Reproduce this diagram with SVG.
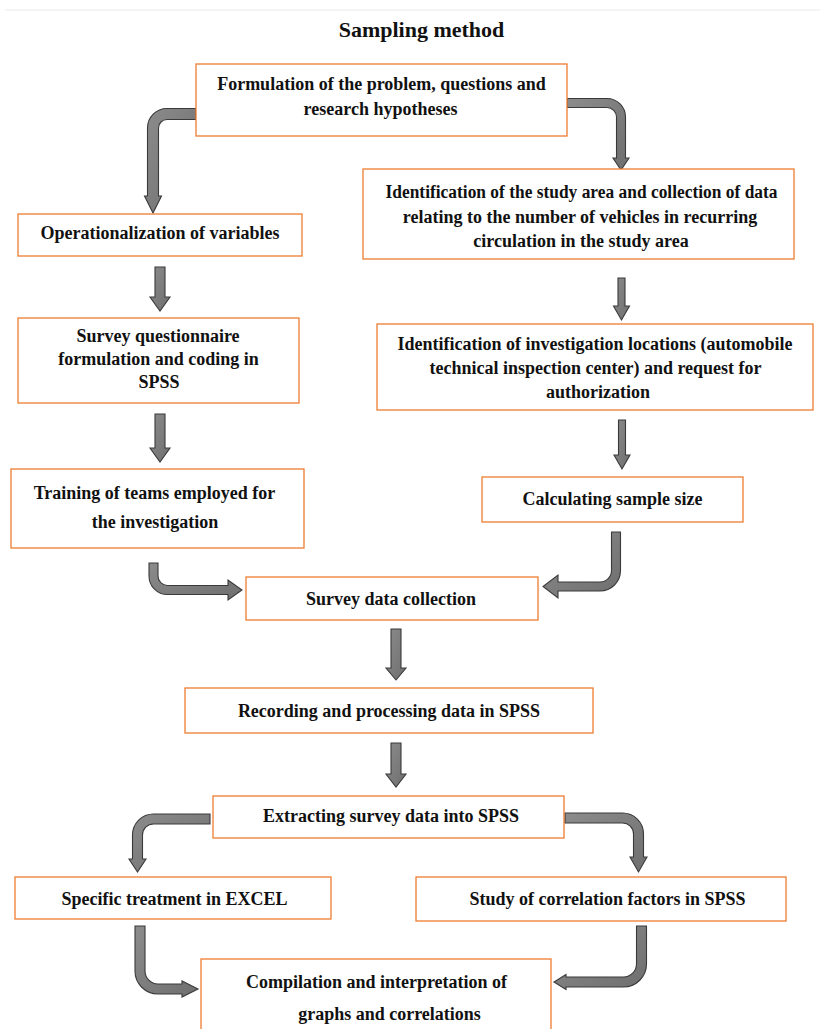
<svg xmlns="http://www.w3.org/2000/svg" width="820" height="1029" viewBox="0 0 820 1029">
<defs>
<linearGradient id="g" x1="0" y1="0" x2="1" y2="1">
<stop offset="0" stop-color="#8c8c8c"/>
<stop offset="1" stop-color="#6e6e6e"/>
</linearGradient>
</defs>
<style>
.box{fill:#fff;stroke:#ED7D31;stroke-width:1.3}
.t{font-family:"Liberation Serif","Times New Roman",serif;font-weight:bold;font-size:18px;fill:#111;text-anchor:middle}
.title{font-family:"Liberation Serif","Times New Roman",serif;font-weight:bold;font-size:22px;fill:#111;text-anchor:middle}
.ar{fill:url(#g);stroke:#3a3a3a;stroke-width:1.1;stroke-linejoin:miter}
</style>
<rect width="820" height="1029" fill="#fff"/>
<line x1="5" y1="10" x2="820" y2="10" stroke="#f0f0f0" stroke-width="1.5"/>
<text class="title" x="421.5" y="37">Sampling method</text>

<g id="connectors">
<path class="ar" d="M196,108.5 L167,108.5 A19.5,19.5 0 0 0 147.5,128 L147.5,196 L144.5,196 L153,213 L161.5,196 L158.5,196 L158.5,128 A8.5,8.5 0 0 1 167,119.5 L196,119.5 Z"/>
<path class="ar" d="M567,98.5 L607,98.5 A18.5,18.5 0 0 1 625.5,117 L625.5,158 L629,158 L621,170 L613,158 L616.5,158 L616.5,117 A9.5,9.5 0 0 0 607,107.5 L567,107.5 Z"/>
<polygon class="ar" points="155,267 165,267 165,297 170,297 160,311 150,297 155,297"/>
<polygon class="ar" points="155,414 165,414 165,448 170,448 160,462 150,448 155,448"/>
<polygon class="ar" points="618,278 625,278 625,306 629.5,306 621.5,320 613.5,306 618,306"/>
<polygon class="ar" points="618.5,420 625.5,420 625.5,455 630,455 622,469 614,455 618.5,455"/>
<path class="ar" d="M149,563 L149,576 A18.5,18.5 0 0 0 167.5,594.5 L228,594.5 L228,600 L242,590 L228,580 L228,585.5 L167.5,585.5 A9.5,9.5 0 0 1 158,576 L158,563 Z"/>
<path class="ar" d="M611.5,532 L611.5,570.5 A11.5,11.5 0 0 1 600,582 L558,582 L558,575 L543,586.5 L558,598 L558,591 L600,591 A20.5,20.5 0 0 0 620.5,570.5 L620.5,532 Z"/>
<polygon class="ar" points="391,629 401,629 401,668 406,668 396,680 386,668 391,668"/>
<polygon class="ar" points="391,743 401,743 401,774 406,774 396,787 386,774 391,774"/>
<path class="ar" d="M210,814 L153.5,814 A21,21 0 0 0 132.5,835 L132.5,859 L129,859 L137.5,872 L146,859 L142.5,859 L142.5,835 A11,11 0 0 1 153.5,824 L210,824 Z"/>
<path class="ar" d="M565,813 L622.5,813 A21,21 0 0 1 643.5,834 L643.5,857 L647,857 L638.5,872 L630,857 L633.5,857 L633.5,834 A11,11 0 0 0 622.5,823 L565,823 Z"/>
<path class="ar" d="M135,926 L135,971 A23,23 0 0 0 158,994 L182,994 L182,997 L198,989 L182,981 L182,984 L158,984 A13,13 0 0 1 145,971 L145,926 Z"/>
<path class="ar" d="M636.5,926 L636.5,964 A13,13 0 0 1 623.5,977 L566,977 L566,974.5 L554,982 L566,989.5 L566,987 L623.5,987 A23,23 0 0 0 646.5,964 L646.5,926 Z"/>
</g>

<g id="n1"><rect class="box" x="196" y="64" width="371" height="72"/>
<text class="t" x="381.5" y="90">Formulation of the problem, questions and</text>
<text class="t" x="380.5" y="115">research hypotheses</text></g>

<g id="n2"><rect class="box" x="363" y="169" width="431" height="90"/>
<text class="t" x="581.5" y="198" textLength="392" lengthAdjust="spacingAndGlyphs">Identification of the study area and collection of data</text>
<text class="t" x="580" y="223">relating to the number of vehicles in recurring</text>
<text class="t" x="581" y="247">circulation in the study area</text></g>

<g id="n3"><rect class="box" x="18" y="214" width="284" height="42"/>
<text class="t" x="160" y="239">Operationalization of variables</text></g>

<g id="n4"><rect class="box" x="18" y="318" width="281" height="85"/>
<text class="t" x="158" y="342">Survey questionnaire</text>
<text class="t" x="158.5" y="365">formulation and coding in</text>
<text class="t" x="159" y="388">SPSS</text></g>

<g id="n5"><rect class="box" x="377" y="324" width="436" height="86"/>
<text class="t" x="595" y="350">Identification of investigation locations (automobile</text>
<text class="t" x="595.5" y="374">technical inspection center) and request for</text>
<text class="t" x="598" y="398">authorization</text></g>

<g id="n6"><rect class="box" x="11" y="469" width="293" height="79"/>
<text class="t" x="154.5" y="499">Training of teams employed for</text>
<text class="t" x="155" y="528">the investigation</text></g>

<g id="n7"><rect class="box" x="482" y="477" width="261" height="45"/>
<text class="t" x="612.5" y="505">Calculating sample size</text></g>

<g id="n8"><rect class="box" x="246" y="577" width="292" height="43"/>
<text class="t" x="391" y="605">Survey data collection</text></g>

<g id="n9"><rect class="box" x="185" y="688" width="408" height="45"/>
<text class="t" x="389" y="717">Recording and processing data in SPSS</text></g>

<g id="n10"><rect class="box" x="213" y="796" width="351" height="42"/>
<text class="t" x="391" y="822">Extracting survey data into SPSS</text></g>

<g id="n11"><rect class="box" x="15" y="877" width="316" height="42"/>
<text class="t" x="174.5" y="905">Specific treatment in EXCEL</text></g>

<g id="n12"><rect class="box" x="416" y="877" width="370" height="44"/>
<text class="t" x="607.5" y="905">Study of correlation factors in SPSS</text></g>

<g id="n13"><rect class="box" x="201" y="959" width="350" height="80"/>
<text class="t" x="376.5" y="988">Compilation and interpretation of</text>
<text class="t" x="389.5" y="1020">graphs and correlations</text></g>
</svg>
